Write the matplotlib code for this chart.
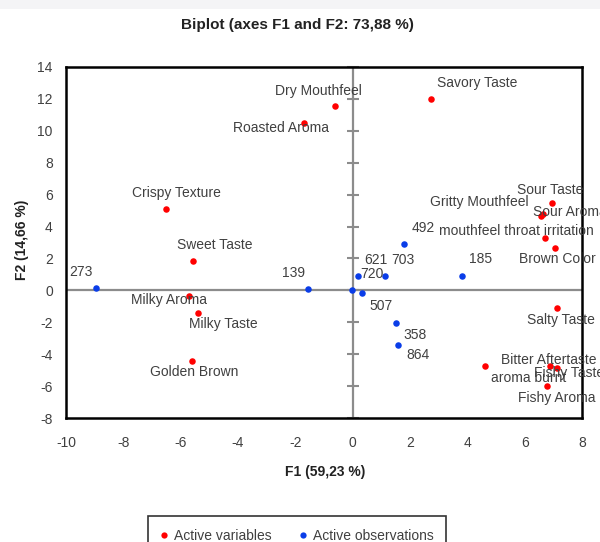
import numpy as np
import matplotlib
matplotlib.use("Agg")
from matplotlib import pyplot as plt
from matplotlib.lines import Line2D
from matplotlib.patches import Rectangle

# Active variables (sensory attributes), coordinates on F1 / F2
var_names = ["Savory Taste", "Dry Mouthfeel", "Roasted Aroma", "Crispy Texture",
             "Sweet Taste", "Milky Aroma", "Milky Taste", "Golden Brown",
             "Sour Taste", "Gritty Mouthfeel", "Sour Aroma",
             "mouthfeel throat irritation", "Brown Color", "Salty Taste",
             "Bitter Aftertaste", "Fishy Taste", "aroma burnt", "Fishy Aroma"]
var_f1 = [2.73, -0.62, -1.69, -6.52, -5.56, -5.72, -5.41, -5.59,
          6.94, 6.56, 6.65, 6.71, 7.06, 7.13, 6.88, 7.14, 4.61, 6.79]
var_f2 = [11.99, 11.55, 10.49, 5.12, 1.82, -0.38, -1.44, -4.43,
          5.45, 4.68, 4.78, 3.26, 2.63, -1.13, -4.73, -4.89, -4.75, -5.98]

# Active observations (samples)
obs_names = ["273", "139", "720", "507", "621", "703", "492", "185", "358", "864"]
obs_f1 = [-8.96, -1.56, -0.01, 0.31, 0.18, 1.13, 1.78, 3.80, 1.51, 1.59]
obs_f2 = [0.13, 0.10, 0.04, -0.19, 0.88, 0.88, 2.88, 0.90, -2.03, -3.45]

x_ticks = np.arange(-10, 9, 2)
y_ticks = np.arange(-8, 15, 2)

# label placement, pixels right / down from the point
label_offsets = {
    "Savory Taste": (46, -16), "Dry Mouthfeel": (-16, -15),
    "Roasted Aroma": (-23, 5), "Crispy Texture": (11, -16),
    "Sweet Taste": (21, -16), "Milky Aroma": (-20, 4),
    "Milky Taste": (26, 11), "Golden Brown": (2, 11),
    "Sour Taste": (-1, -13), "Gritty Mouthfeel": (-61, -14),
    "Sour Aroma": (27, -2), "mouthfeel throat irritation": (-29, -7),
    "Brown Color": (2, 11), "Salty Taste": (4, 12),
    "Bitter Aftertaste": (-1, -6), "Fishy Taste": (12, 5),
    "aroma burnt": (44, 12), "Fishy Aroma": (9, 12),
    "273": (-15, -16), "139": (-14, -16), "720": (20, -16),
    "507": (20, 13), "621": (18, -16), "703": (18, -16),
    "492": (20, -16), "185": (19, -17), "358": (19, 12), "864": (20, 10),
}

plt.rcParams["font.family"] = ["Liberation Sans", "DejaVu Sans"]
plt.rcParams["axes.unicode_minus"] = False

red = "#ff0000"
blue = "#0a3de8"
text_col = "#404040"
axis_gray = "#8c8c8c"

fig = plt.figure(figsize=(6.0, 5.42), dpi=100)
fig.patches.append(Rectangle((0, 1 - 9 / 542), 1, 9 / 542, transform=fig.transFigure,
                             facecolor="#f4f4f6", edgecolor="none"))

ax = fig.add_axes([66 / 600, 1 - 418 / 542, 516 / 600, 351 / 542])
ax.set_xlim(-10, 8)
ax.set_ylim(-8, 14)
ax.set_xticks(x_ticks)
ax.set_yticks(y_ticks)
ax.tick_params(axis="both", length=0, labelsize=10, labelcolor=text_col)
ax.tick_params(axis="x", pad=13)
ax.tick_params(axis="y", pad=9.5)
for sp in ax.spines.values():
    sp.set_color("black")
    sp.set_linewidth(1.8)

# axes through the origin, with tick marks on the vertical one
ax.axhline(0, color=axis_gray, lw=1.6, zorder=1)
ax.axvline(0, color=axis_gray, lw=1.6, zorder=1)
ax.plot(np.zeros(len(y_ticks)), y_ticks, ls="none", marker="_", ms=8, mew=1.5,
        color=axis_gray, zorder=1, clip_on=False)

ax.scatter(var_f1, var_f2, s=22, color=red, zorder=3, linewidths=0)
ax.scatter(obs_f1, obs_f2, s=22, color=blue, zorder=3, linewidths=0)

for name, x, y in list(zip(var_names, var_f1, var_f2)) + list(zip(obs_names, obs_f1, obs_f2)):
    dx, dy = label_offsets[name]
    ax.annotate(name, (x, y), xytext=(dx, -dy), textcoords="offset pixels",
                ha="center", va="center", fontsize=10, color=text_col,
                annotation_clip=False, zorder=4)

fig.text(297 / 600, 1 - 25 / 542, "Biplot (axes F1 and F2: 73,88 %)",
         ha="center", va="center", fontsize=11, fontweight="bold", color="#222222")
fig.text(22 / 600, 1 - 240 / 542, "F2 (14,66 %)", rotation=90,
         ha="center", va="center", fontsize=10, fontweight="bold", color="#222222")
fig.text(325 / 600, 1 - 472 / 542, "F1 (59,23 %)",
         ha="center", va="center", fontsize=10, fontweight="bold", color="#222222")

handles = [
    Line2D([], [], ls="none", marker="o", ms=4.5, color=red, mew=0, label="Active variables"),
    Line2D([], [], ls="none", marker="o", ms=4.5, color=blue, mew=0, label="Active observations"),
]
leg = fig.legend(handles=handles, loc="upper center", bbox_to_anchor=(297 / 600, 1 - 516 / 542),
                 ncol=2, frameon=True, fancybox=False, fontsize=10, handlelength=0.6,
                 handletextpad=0.4, columnspacing=2.0, borderpad=0.9, borderaxespad=0)
leg.get_frame().set_edgecolor("black")
leg.get_frame().set_linewidth(1.2)
for t in leg.get_texts():
    t.set_color(text_col)

fig.savefig("out.png", dpi=100)
